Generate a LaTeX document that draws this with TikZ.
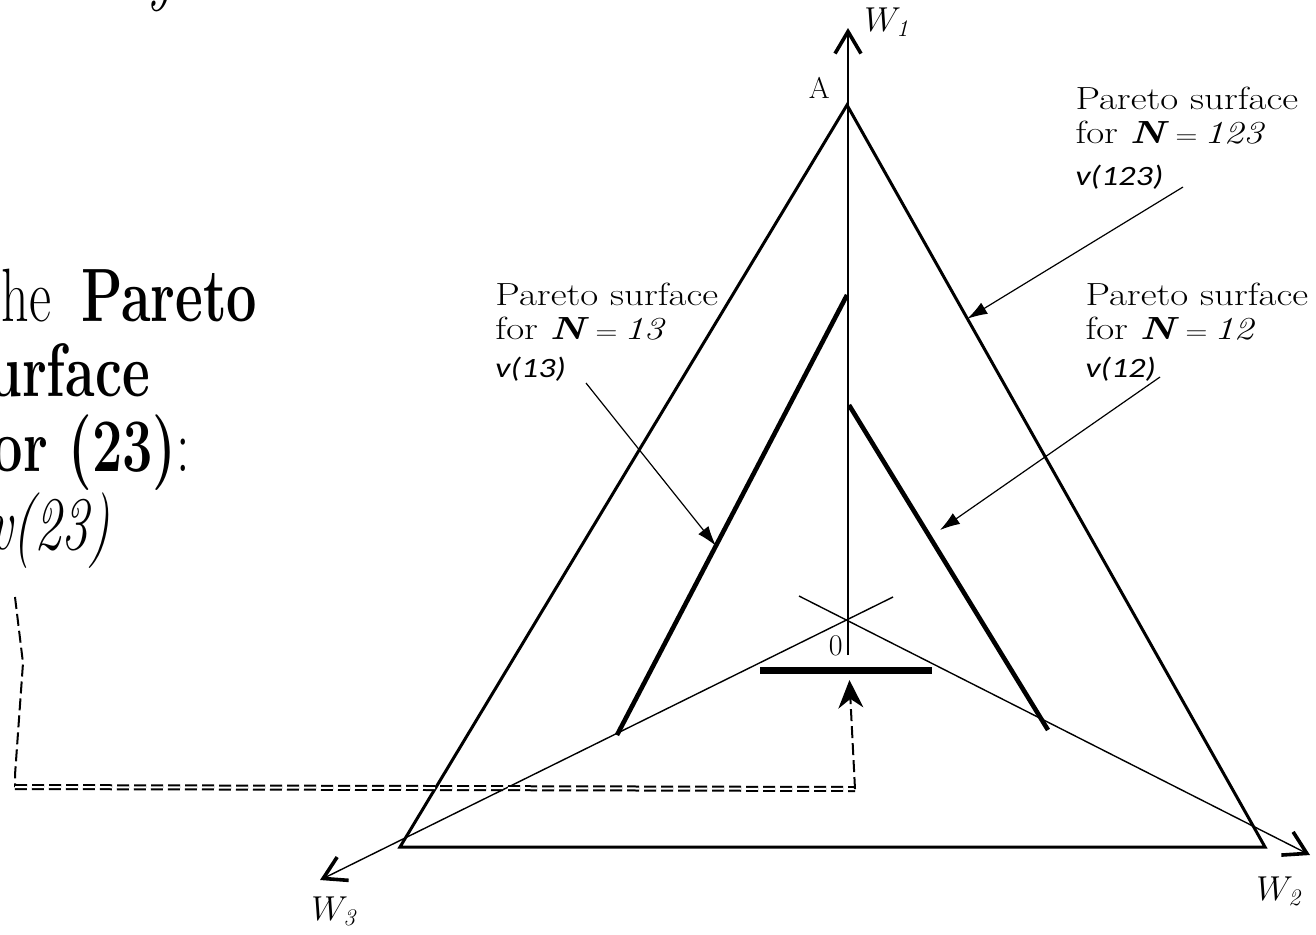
\documentclass[tikz,border=0pt]{standalone}
\usepackage{fontspec}
\usepackage{amsmath}
\usetikzlibrary{arrows.meta, calc}
\newfontfamily\vfont{Carlito}
\newcommand{\smeq}{{\fontsize{12}{12}\selectfont=}}

\begin{document}
\begin{tikzpicture}[x=0.5pt, y=-0.5pt,
        edge/.style={line width=1.5pt},
        surf/.style={line width=2.3pt},
        axis/.style={line width=0.7pt, -{Straight Barb[length=11pt, width=13pt, line width=1.8pt]}},
        pointer/.style={line width=0.6pt, -{Latex[length=10pt, width=6.5pt]}},
        note/.style={align=left, inner sep=0pt, anchor=north west, xscale=1.22, font=\fontsize{16}{17}\selectfont},
        caption/.style={align=left, inner sep=0pt, anchor=north west, yscale=1.4, font=\fontsize{27}{26.8}\selectfont},
        axlabel/.style={inner sep=0pt, anchor=base west, font=\fontsize{17}{17}\selectfont},
        dashline/.style={line width=1pt, dash pattern=on 6pt off 2.5pt}
    ]
        \useasboundingbox (0,0) rectangle (1316,934);
        \clip (0,0) rectangle (1316,934);

        \coordinate (O) at (848,621);
        \coordinate (A) at (847,105);
        \coordinate (B) at (400,847);
        \coordinate (C) at (1265,847);

        % axes
        \draw[axis] (848,655) -- (848,28) coordinate (w1);
        \draw[axis] (799,596) -- (1310,855) coordinate (w2);
        \draw[axis] (893,597) -- (320,880) coordinate (w3);
        \node[axlabel] (lw1) at (864,31) {$W_{\mathit{1}}$};
        \node[axlabel] (lw2) at (1256,900) {$W_{\mathit{2}}$};
        \node[axlabel] (lw3) at (311,920) {$W_{\mathit{3}}$};
        \node[inner sep=0pt, anchor=base east, font=\fontsize{15}{15}\selectfont] (la) at (830,98) {A};
        \node[inner sep=0pt, anchor=base east, font=\fontsize{15}{15}\selectfont] (lo) at (843,655) {0};

        % Pareto surfaces
        \draw[edge] (A) -- (B) -- (C) -- cycle;
        \draw[surf] (847,295) coordinate (s13a) -- (617,735) coordinate (s13b);
        \draw[surf] (849,405) coordinate (s12a) -- (1048,730) coordinate (s12b);
        \draw[line width=3.5pt] (760,670) coordinate (s23a) -- (932,670) coordinate (s23b);

        \node[note] (n123) at (1075,87) {Pareto surface\\for \textbf{\textit{N}}\,\smeq\,\textit{123}\\[4pt]{\vfont\itshape\fontsize{14}{17}\selectfont v(123)}};
        \node[note] (n13) at (495,283) {Pareto surface\\for \textbf{\textit{N}}\,\smeq\,\textit{13}\\[2pt]{\vfont\itshape\fontsize{14}{17}\selectfont v(13)}};
        \node[note] (n12) at (1085,283) {Pareto surface\\for \textbf{\textit{N}}\,\smeq\,\textit{12}\\[2pt]{\vfont\itshape\fontsize{14}{17}\selectfont v(12)}};

        \coordinate (t123) at (1183,187);
        \coordinate (t13) at (586,383);
        \coordinate (t12) at (1160,377);
        \draw[pointer] (t123) -- ($(A)!0.288!(C)$);
        \draw[pointer] (t13) -- ($(s13a)!0.57!(s13b)$);
        \draw[pointer] (t12) -- (940,530);

        % the (23) surface, cut off at the left
        \node[caption] (cap23) at (-18,268) {the\hspace{7pt} \textbf{Pareto}\\\hspace*{-9pt}\textbf{surface}\\\hspace*{-4pt}\textbf{for (23)}:\\\hspace*{3pt}\textit{v(23)}};
        \node[caption, anchor=base west] (top) at (146,-4) {\textit{y}};

        \coordinate (d1) at (15,597);
        \coordinate (d2) at (15,787);
        \coordinate (d3) at (855,789);
        \draw[dashline] (d1) -- (23,663) -- (15,775) -- (d2);
        \draw[dashline, double, double distance=1pt] (d2) -- (d3);
        \draw[dashline, -{Stealth[length=14pt, width=12.5pt]}] (d3) -- ($(s23a)!0.52!(s23b)+(0,10)$);
    \end{tikzpicture}
\end{document}
